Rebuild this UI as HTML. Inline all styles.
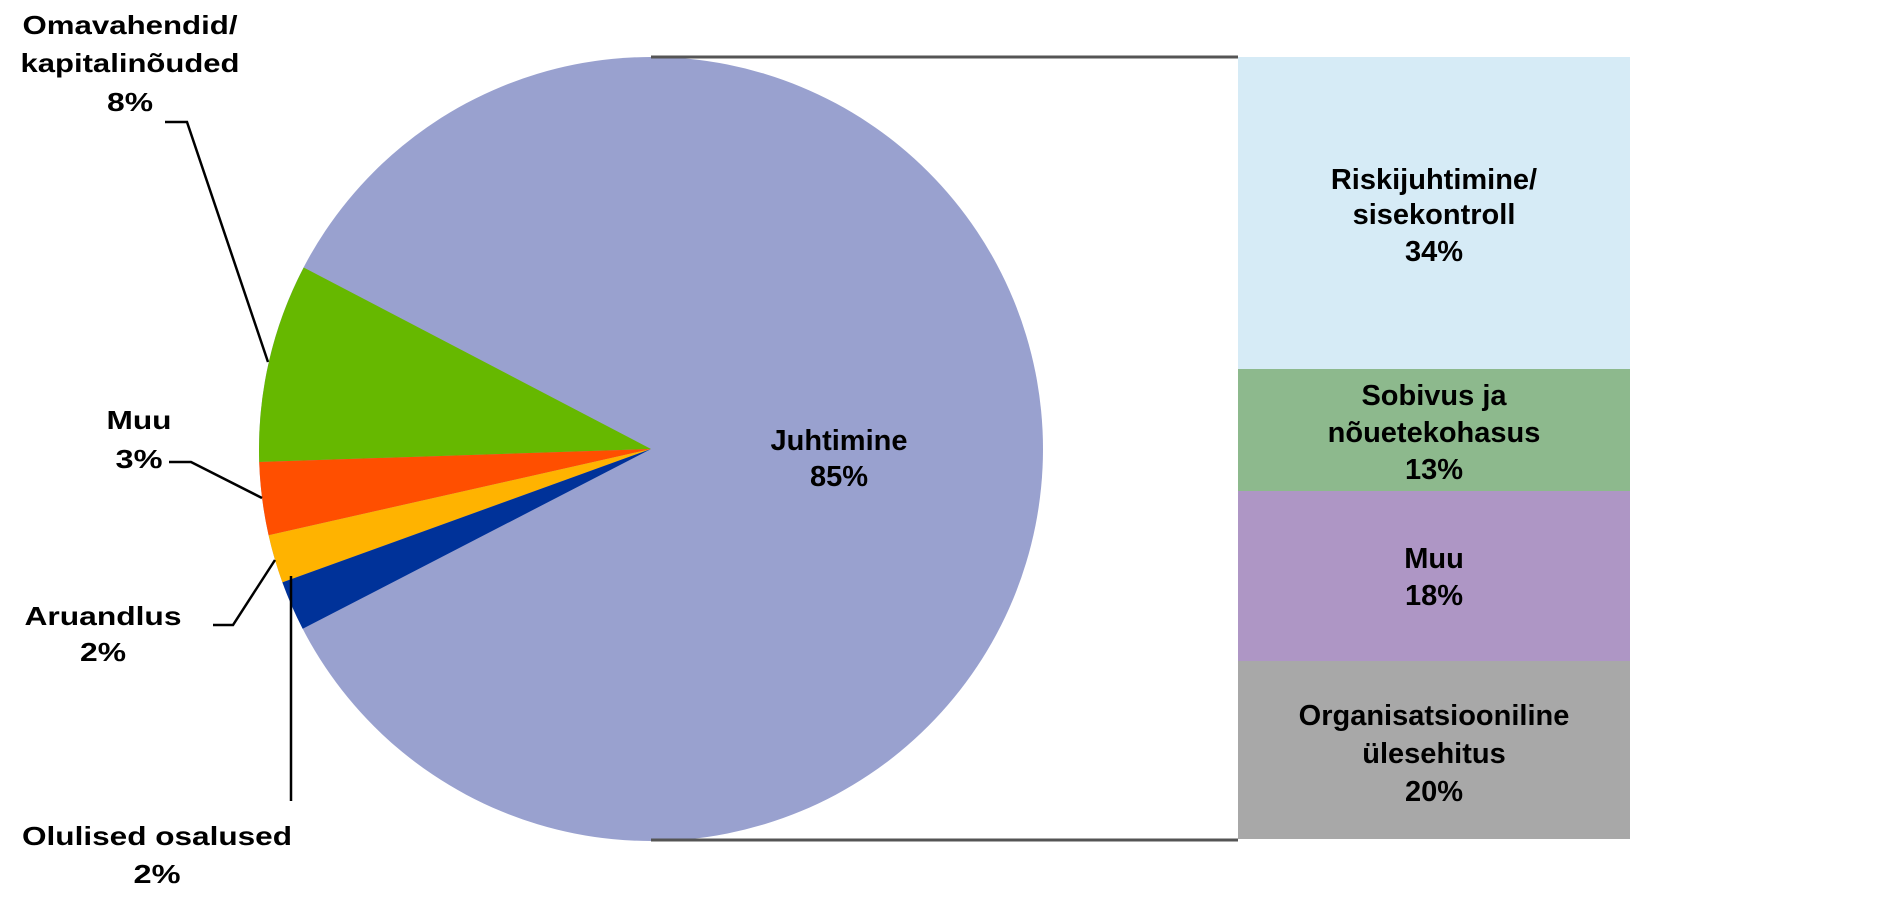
<!DOCTYPE html>
<html><head><meta charset="utf-8"><style>
html,body{margin:0;padding:0;background:#fff;}
svg{display:block;}
text{font-family:"Liberation Sans",Arial,sans-serif;font-weight:bold;fill:#000;}
</style></head><body>
<svg width="1890" height="899" viewBox="0 0 1890 899" xmlns="http://www.w3.org/2000/svg">
<rect width="1890" height="899" fill="#fff"/>
<!-- pie -->
<circle cx="651" cy="449" r="392" fill="#99A1CF"/>
<path d="M651,449 L303.7,267.5 A392,392 0 0,0 259.2,462.0 Z" fill="#66B800"/>
<path d="M651,449 L259.2,462.0 A392,392 0 0,0 268.6,535.2 Z" fill="#FF4F00"/>
<path d="M651,449 L268.6,535.2 A392,392 0 0,0 282.4,582.4 Z" fill="#FFB300"/>
<path d="M651,449 L282.4,582.4 A392,392 0 0,0 302.7,628.8 Z" fill="#003299"/>
<!-- connector lines -->
<line x1="651" y1="57" x2="1238" y2="57" stroke="#555" stroke-width="3"/>
<line x1="651" y1="840" x2="1238" y2="840" stroke="#555" stroke-width="3"/>
<!-- bars -->
<rect x="1238" y="57" width="392" height="312" fill="#D6EBF6"/>
<rect x="1238" y="369" width="392" height="122" fill="#8DB98D"/>
<rect x="1238" y="491" width="392" height="170" fill="#AE96C5"/>
<rect x="1238" y="661" width="392" height="178" fill="#A8A8A8"/>
<!-- leader lines -->
<g stroke="#000" stroke-width="2.5" fill="none">
<polyline points="165,122 187,122 268,362"/>
<polyline points="169,462 191,462 262,498"/>
<polyline points="213,625 233,625 275,560"/>
<polyline points="291,801 291,576"/>
</g>
<!-- left labels -->
<g font-size="26" text-anchor="middle">
<text x="130" y="34" textLength="215" lengthAdjust="spacingAndGlyphs">Omavahendid/</text>
<text x="130" y="72" textLength="219" lengthAdjust="spacingAndGlyphs">kapitalinõuded</text>
<text x="130" y="111" textLength="46" lengthAdjust="spacingAndGlyphs">8%</text>
<text x="139" y="429" textLength="65" lengthAdjust="spacingAndGlyphs">Muu</text>
<text x="139" y="468" textLength="47" lengthAdjust="spacingAndGlyphs">3%</text>
<text x="103" y="625" textLength="157" lengthAdjust="spacingAndGlyphs">Aruandlus</text>
<text x="103" y="661" textLength="46" lengthAdjust="spacingAndGlyphs">2%</text>
<text x="157" y="845" textLength="270" lengthAdjust="spacingAndGlyphs">Olulised osalused</text>
<text x="157" y="883" textLength="47" lengthAdjust="spacingAndGlyphs">2%</text>
</g>
<g font-size="29" text-anchor="middle">
<text x="839" y="450">Juhtimine</text>
<text x="839" y="486">85%</text>
<text x="1434" y="189">Riskijuhtimine/</text>
<text x="1434" y="224">sisekontroll</text>
<text x="1434" y="261">34%</text>
<text x="1434" y="405">Sobivus ja</text>
<text x="1434" y="442">nõuetekohasus</text>
<text x="1434" y="479">13%</text>
<text x="1434" y="568">Muu</text>
<text x="1434" y="605">18%</text>
<text x="1434" y="725">Organisatsiooniline</text>
<text x="1434" y="763">ülesehitus</text>
<text x="1434" y="801">20%</text>
</g>
</svg>
</body></html>
